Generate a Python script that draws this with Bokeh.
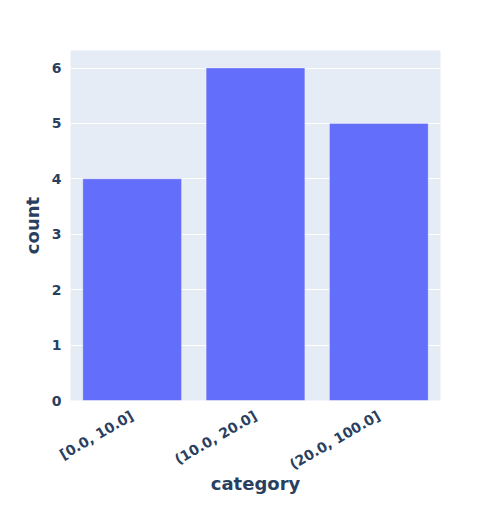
import math
from bokeh.plotting import figure
from bokeh.models import ColumnDataSource, Range1d, FactorRange
from bokeh.embed import file_html
from bokeh.resources import INLINE

categories = ["[0.0, 10.0]", "(10.0, 20.0]", "(20.0, 100.0]"]
counts = [4, 6, 5]

src = ColumnDataSource(dict(cat=categories, count=counts))

p = figure(width=464, height=510, x_range=FactorRange(*categories, range_padding=0),
           y_range=Range1d(0, 6.316), output_backend="svg", toolbar_location=None,
           min_border_left=70, min_border_right=24, min_border_top=50, min_border_bottom=110)

p.background_fill_color = "#E5ECF6"
p.border_fill_color = "white"
p.outline_line_color = None

p.vbar(x="cat", top="count", width=0.8, source=src, fill_color="#636EFA",
       line_color="white", line_width=0.5, line_alpha=0.6)

font = "DejaVu Sans"
col = "#2a3f5f"
for ax in (p.xaxis, p.yaxis):
    ax.axis_line_color = None
    ax.major_tick_line_color = None
    ax.minor_tick_line_color = None
    ax.major_label_text_font = font
    ax.major_label_text_font_style = "bold"
    ax.major_label_text_font_size = "14px"
    ax.major_label_text_color = col
    ax.axis_label_text_font = font
    ax.axis_label_text_font_style = "bold"
    ax.axis_label_text_font_size = "18px"
    ax.axis_label_text_color = col

p.xaxis.axis_label = "category"
p.yaxis.axis_label = "count"
p.xaxis.major_label_orientation = math.pi / 6
p.xaxis.major_label_standoff = 8
p.yaxis.major_label_standoff = 3
p.yaxis.axis_label_standoff = 6
p.xaxis.axis_label_standoff = -9
p.yaxis.ticker = [0, 1, 2, 3, 4, 5, 6]

p.xgrid.grid_line_color = None
p.ygrid.grid_line_color = "white"
p.ygrid.grid_line_width = 1

open("out.html", "w").write(file_html(p, INLINE))
